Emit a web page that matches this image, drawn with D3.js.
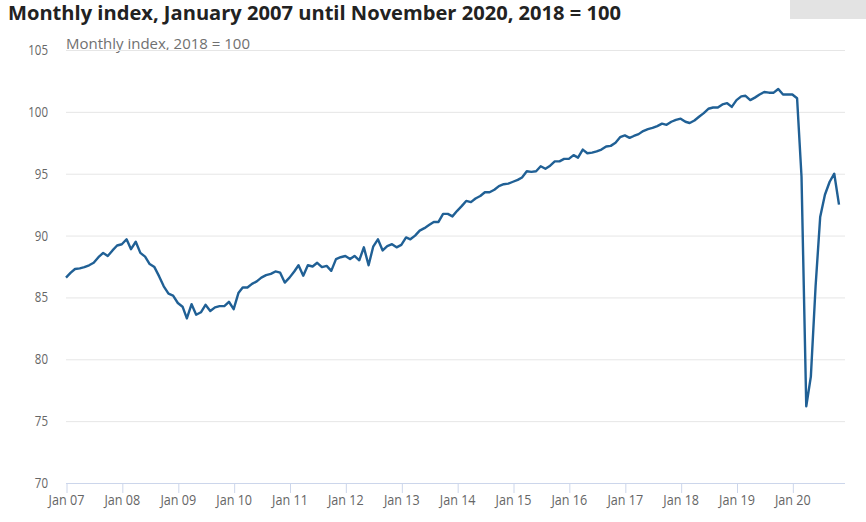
<!DOCTYPE html>
<html>
<head>
<meta charset="utf-8">
<script src="https://cdn.jsdelivr.net/npm/d3@7"></script>
<style>
  html, body { margin: 0; padding: 0; background: #fff; }
  svg { display: block; font-family: "Open Sans", sans-serif; }
</style>
</head>
<body>
<svg id="chart" width="866" height="522"></svg>
<script>
// ---- Data (monthly index, 2018 = 100), Jan 2007 .. Nov 2020 ----
const startYear = 2007;
const v2007 = [86.6, 87.0, 87.3, 87.35, 87.45, 87.6, 87.8, 88.25, 88.6, 88.35, 88.8, 89.2];
const v2008 = [89.3, 89.7, 88.9, 89.5, 88.6, 88.3, 87.7, 87.45, 86.7, 85.9, 85.3, 85.15];
const v2009 = [84.55, 84.25, 83.3, 84.45, 83.6, 83.8, 84.4, 83.9, 84.2, 84.3, 84.3, 84.65];
const v2010 = [84.05, 85.35, 85.8, 85.8, 86.1, 86.3, 86.6, 86.8, 86.9, 87.1, 87.0, 86.2];
const v2011 = [86.6, 87.1, 87.6, 86.75, 87.6, 87.5, 87.8, 87.45, 87.55, 87.15, 88.1, 88.25];
const v2012 = [88.35, 88.1, 88.35, 88.0, 89.05, 87.6, 89.1, 89.7, 88.8, 89.15, 89.3, 89.05];
const v2013 = [89.25, 89.85, 89.7, 90.0, 90.4, 90.6, 90.85, 91.1, 91.1, 91.75, 91.75, 91.55];
const v2014 = [92.0, 92.4, 92.8, 92.7, 93.0, 93.2, 93.5, 93.5, 93.7, 94.0, 94.15, 94.2];
const v2015 = [94.35, 94.5, 94.7, 95.2, 95.15, 95.2, 95.6, 95.4, 95.65, 96.0, 96.0, 96.2];
const v2016 = [96.2, 96.5, 96.3, 96.95, 96.65, 96.7, 96.8, 96.95, 97.2, 97.25, 97.5, 97.95];
const v2017 = [98.1, 97.9, 98.05, 98.2, 98.45, 98.6, 98.7, 98.85, 99.05, 98.95, 99.2, 99.35];
const v2018 = [99.45, 99.2, 99.1, 99.3, 99.6, 99.9, 100.25, 100.35, 100.35, 100.6, 100.7, 100.4];
const v2019 = [100.95, 101.25, 101.3, 100.95, 101.15, 101.4, 101.6, 101.55, 101.55, 101.85, 101.4, 101.4];
const v2020 = [101.4, 101.1, 94.75, 76.2, 78.6, 85.9, 91.5, 93.3, 94.35, 95.0, 92.5];

const yTicks = [70, 75, 80, 85, 90, 95, 100, 105];
const xTickLabels = ["Jan 07","Jan 08","Jan 09","Jan 10","Jan 11","Jan 12","Jan 13",
                     "Jan 14","Jan 15","Jan 16","Jan 17","Jan 18","Jan 19","Jan 20"];

const titleText = "Monthly index, January 2007 until November 2020, 2018 = 100";
const subtitleText = "Monthly index, 2018 = 100";

// ---- Build series ----
const allValues = [].concat(v2007, v2008, v2009, v2010, v2011, v2012, v2013,
                            v2014, v2015, v2016, v2017, v2018, v2019, v2020);
const series = allValues.map((v, i) => ({ date: new Date(startYear, i, 1), value: v }));

// ---- Layout ----
const svg = d3.select("#chart");
const plotLeft = 66, plotRight = 845, plotTop = 50, plotBottom = 483;
const lastX = 839;

const x = d3.scaleTime()
  .domain([series[0].date, series[series.length - 1].date])
  .range([plotLeft, lastX]);
const y = d3.scaleLinear().domain([70, 105]).range([plotBottom, plotTop]);

function squeeze(sel, factor) {
  sel.each(function () {
    const w = this.getComputedTextLength();
    d3.select(this).attr("textLength", w * factor).attr("lengthAdjust", "spacingAndGlyphs");
  });
}

// Title
svg.append("text")
  .attr("x", 8).attr("y", 20)
  .attr("font-size", 18.7).attr("font-weight", "bold").attr("fill", "#222")
  .text(titleText)
  .attr("textLength", 613).attr("lengthAdjust", "spacingAndGlyphs");

// Gray box top right
svg.append("rect").attr("x", 790).attr("y", 0).attr("width", 76).attr("height", 19)
  .attr("fill", "#e3e3e3");

// Subtitle
svg.append("text")
  .attr("x", plotLeft).attr("y", 49)
  .attr("font-size", 15).attr("fill", "#707070")
  .text(subtitleText)
  .attr("textLength", 184).attr("lengthAdjust", "spacingAndGlyphs");

// Gridlines
svg.append("g").selectAll("line")
  .data(yTicks.filter(t => t !== 70))
  .join("line")
  .attr("x1", plotLeft).attr("x2", plotRight)
  .attr("y1", d => y(d) + 0.5).attr("y2", d => y(d) + 0.5)
  .attr("stroke", "#e6e6e6").attr("stroke-width", 1);

// Y labels
svg.append("g").selectAll("text")
  .data(yTicks)
  .join("text")
  .attr("x", 48).attr("y", d => y(d) + 5)
  .attr("text-anchor", "end")
  .attr("font-size", 14).attr("fill", "#666")
  .text(d => d)
  .call(squeeze, 0.82);

// X axis
const xTickDates = xTickLabels.map((_, i) => new Date(startYear + i, 0, 1));
const xAxis = d3.axisBottom(x)
  .tickValues(xTickDates)
  .tickFormat((d, i) => xTickLabels[i])
  .tickSize(10).tickSizeOuter(0);

const gx = svg.append("g")
  .attr("transform", `translate(0,${plotBottom})`)
  .call(xAxis);
gx.select(".domain").remove();
gx.append("line").attr("x1", plotLeft).attr("x2", plotRight)
  .attr("y1", 0.5).attr("y2", 0.5).attr("stroke", "#ccd6eb");
gx.selectAll(".tick line").attr("stroke", "#ccd6eb").attr("transform", "translate(0.5,0)");
gx.selectAll(".tick text")
  .attr("font-family", "Open Sans, sans-serif")
  .attr("font-size", 14).attr("fill", "#666").attr("dy", null).attr("y", 22)
  .call(squeeze, 0.9);

// Line
const line = d3.line().x(d => x(d.date)).y(d => y(d.value));
svg.append("path")
  .datum(series)
  .attr("d", line)
  .attr("fill", "none")
  .attr("stroke", "#206095")
  .attr("stroke-width", 2.4)
  .attr("stroke-linejoin", "round");
</script>
</body>
</html>
